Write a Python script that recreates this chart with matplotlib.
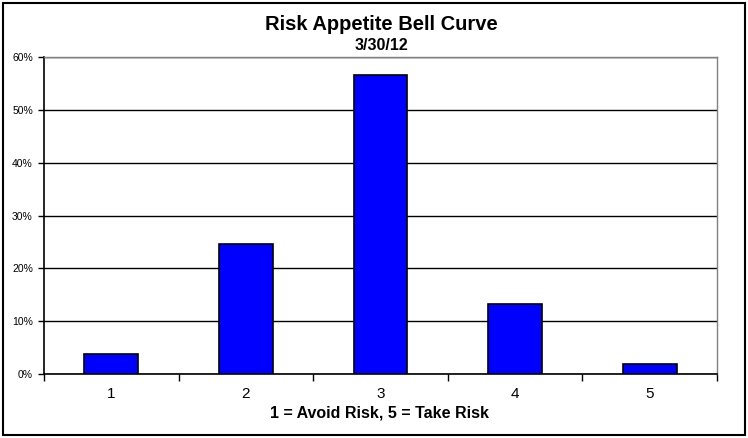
import matplotlib
matplotlib.use("Agg")
import matplotlib.pyplot as plt
from matplotlib.patches import Rectangle
from matplotlib.ticker import FuncFormatter, MultipleLocator

plt.rcParams['font.family'] = ['Liberation Sans', 'DejaVu Sans']

categories = ["1", "2", "3", "4", "5"]
values = [3.77, 24.53, 56.60, 13.21, 1.89]  # percent
title = "Risk Appetite Bell Curve"
subtitle = "3/30/12"
xlabel = "1 = Avoid Risk, 5 = Take Risk"

W, H = 748, 438
fig = plt.figure(figsize=(W / 100, H / 100), dpi=100)
fig.patch.set_facecolor("white")

# chart border
fig.patches.append(Rectangle((2.5 / W, 1 - 435 / H), 742 / W, 432 / H,
                             transform=fig.transFigure, fill=False,
                             edgecolor="black", linewidth=1.5, zorder=0))

left, top, right, bottom = 44, 57, 717, 374
ax = fig.add_axes([left / W, 1 - bottom / H, (right - left) / W, (bottom - top) / H])

x = list(range(len(categories)))
ax.bar(x, values, width=0.4, color="#0000FF", edgecolor="black", linewidth=1.2, zorder=3)

ax.set_xlim(-0.5, len(categories) - 0.5)
ax.set_ylim(0, 60)
ax.yaxis.set_major_locator(MultipleLocator(10))
ax.yaxis.set_major_formatter(FuncFormatter(lambda v, p: f"{int(round(v))}%"))
ax.grid(axis="y", color="black", linewidth=1.0, zorder=1)

ax.set_xticks([i - 0.5 for i in range(len(categories) + 1)])
ax.set_xticklabels([])
ax.set_xticks(x, minor=True)
ax.set_xticklabels(categories, minor=True, fontsize=11)
ax.tick_params(axis="x", which="minor", length=0, pad=9)
ax.tick_params(axis="x", which="major", direction="out", length=5, width=1.0, color="black")
ax.tick_params(axis="y", direction="out", length=4, width=1.0, labelsize=7.5, pad=4)

for s in ["left", "bottom"]:
    ax.spines[s].set_color("black")
    ax.spines[s].set_linewidth(1.2)
for s in ["top", "right"]:
    ax.spines[s].set_color("#808080")
    ax.spines[s].set_linewidth(1.0)

fig.text(381 / W, 1 - 25 / H, title, ha="center", va="center", fontsize=14.5, fontweight="bold")
fig.text(381 / W, 1 - 46 / H, subtitle, ha="center", va="center", fontsize=11.5, fontweight="bold")
fig.text(380 / W, 1 - 413 / H, xlabel, ha="center", va="center", fontsize=11.5, fontweight="bold")

fig.savefig("out.png", dpi=100, facecolor="white")
